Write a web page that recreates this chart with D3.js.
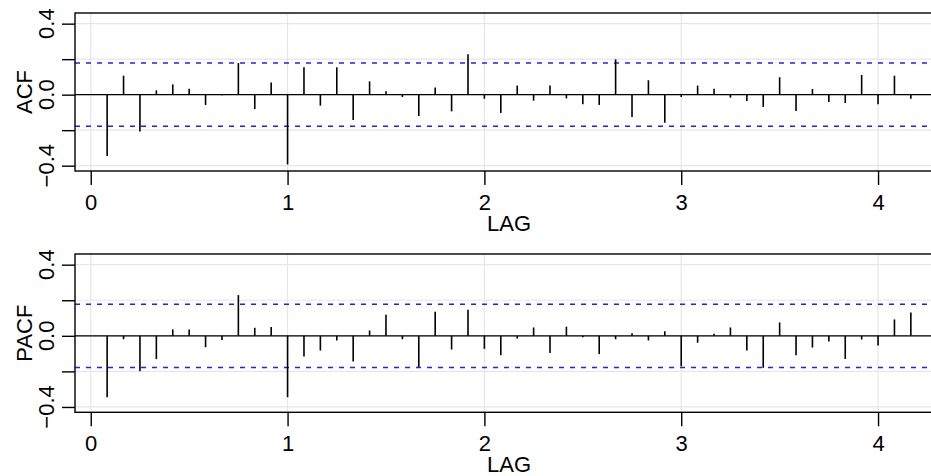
<!DOCTYPE html>
<html>
<head>
<meta charset="utf-8">
<script src="https://cdn.jsdelivr.net/npm/d3@7"></script>
<style>
  html, body { margin: 0; padding: 0; background: #fff; }
  svg { display: block; font-family: "Liberation Sans", Arial, Helvetica, sans-serif; }
</style>
</head>
<body>
<svg id="chart" width="931" height="476"></svg>
<script>
// ---- data ----
const LAGS = d3.range(1, 51).map(k => k / 12);
const ACF = [-0.345, 0.107, -0.207, 0.024, 0.058, 0.034, -0.058, -0.004, 0.178, -0.081,
             0.068, -0.393, 0.154, -0.062, 0.154, -0.143, 0.075, 0.019, -0.013, -0.120,
             0.041, -0.094, 0.227, -0.023, -0.103, 0.051, -0.034, 0.051, -0.021, -0.054,
             -0.058, 0.199, -0.126, 0.081, -0.158, -0.013, 0.051, 0.034, -0.017, -0.036,
             -0.069, 0.098, -0.092, 0.032, -0.041, -0.047, 0.111, -0.054, 0.107, -0.023];
const PACF = [-0.345, -0.019, -0.199, -0.131, 0.036, 0.036, -0.064, -0.024, 0.229, 0.045,
              0.049, -0.345, -0.116, -0.083, -0.026, -0.145, 0.030, 0.118, -0.019, -0.175,
              0.135, -0.077, 0.146, -0.073, -0.109, -0.015, 0.047, -0.096, 0.051, -0.008,
              -0.103, -0.019, 0.015, -0.026, 0.026, -0.171, -0.039, 0.011, 0.047, -0.083,
              -0.180, 0.075, -0.109, -0.066, -0.032, -0.130, -0.021, -0.054, 0.092, 0.131];
const CONF = 0.178;
const X_TICKS = [0, 1, 2, 3, 4];
const Y_TICKS = [-0.4, -0.2, 0, 0.2, 0.4];
const Y_LABELED = [-0.4, 0, 0.4];
const X_TITLE = "LAG";
const PANELS = [
  { name: "ACF", values: ACF, top: 13, bottom: 171 },
  { name: "PACF", values: PACF, top: 254, bottom: 412.3 }
];

// ---- drawing ----
const svg = d3.select("#chart");
const FS = 22;
const x = d3.scaleLinear().domain([-0.08, 4.33]).range([75, 943]);
const fmt = v => (v < 0 ? "\u2212" : "") + Math.abs(v).toFixed(1);

PANELS.forEach(p => {
  const y = d3.scaleLinear().domain([-0.43, 0.46]).range([p.bottom, p.top]);
  const g = svg.append("g");
  const [x0, x1] = x.range();

  // grid
  g.selectAll(".vg").data(X_TICKS).join("line")
    .attr("x1", d => x(d)).attr("x2", d => x(d))
    .attr("y1", p.top).attr("y2", p.bottom)
    .attr("stroke", "#e6e6e6").attr("stroke-width", 1.2);
  g.selectAll(".hg").data(Y_TICKS).join("line")
    .attr("x1", x0).attr("x2", x1)
    .attr("y1", d => y(d)).attr("y2", d => y(d))
    .attr("stroke", "#e6e6e6").attr("stroke-width", 1.2);

  // zero line
  g.append("line").attr("x1", x0).attr("x2", x1)
    .attr("y1", y(0)).attr("y2", y(0))
    .attr("stroke", "#000").attr("stroke-width", 1.3);

  // confidence bounds
  [CONF, -CONF].forEach(c => {
    g.append("line").attr("x1", x0).attr("x2", x1)
      .attr("y1", y(c)).attr("y2", y(c))
      .attr("stroke", "#1f1fff").attr("stroke-width", 1.5)
      .attr("stroke-dasharray", "5,6");
  });

  // bars
  g.selectAll(".bar").data(p.values).join("line")
    .attr("x1", (d, i) => x(LAGS[i])).attr("x2", (d, i) => x(LAGS[i]))
    .attr("y1", y(0)).attr("y2", d => y(d))
    .attr("stroke", "#000").attr("stroke-width", 1.6);

  // box
  g.append("rect").attr("x", x0).attr("y", p.top)
    .attr("width", x1 - x0).attr("height", p.bottom - p.top)
    .attr("fill", "none").attr("stroke", "#000").attr("stroke-width", 1.4);

  // x axis
  const xa = g.append("g").attr("transform", `translate(0,${p.bottom})`)
    .call(d3.axisBottom(x).tickValues(X_TICKS).tickSize(14).tickPadding(9).tickFormat(d3.format("d")));
  xa.select(".domain").remove();
  xa.selectAll("line").attr("stroke", "#000").attr("stroke-width", 1.4);
  xa.selectAll("text").attr("font-size", FS).attr("fill", "#000")
    .attr("font-family", "Liberation Sans, Arial, sans-serif");

  g.append("text").attr("x", (x0 + x1) / 2).attr("y", p.bottom + 59.5)
    .attr("text-anchor", "middle").attr("font-size", FS).text(X_TITLE);

  // y axis
  const ya = g.append("g").attr("transform", `translate(${x0},0)`)
    .call(d3.axisLeft(y).tickValues(Y_TICKS).tickSize(13).tickFormat(""));
  ya.select(".domain").remove();
  ya.selectAll("line").attr("stroke", "#000").attr("stroke-width", 1.4);
  g.selectAll(".ylab").data(Y_LABELED).join("text")
    .attr("transform", d => `translate(${x0 - 21.5},${y(d)}) rotate(-90)`)
    .attr("text-anchor", "middle").attr("font-size", FS).text(fmt);

  g.append("text")
    .attr("transform", `translate(31.5,${(p.top + p.bottom) / 2}) rotate(-90)`)
    .attr("text-anchor", "middle").attr("font-size", FS).text(p.name);
});
</script>
</body>
</html>
